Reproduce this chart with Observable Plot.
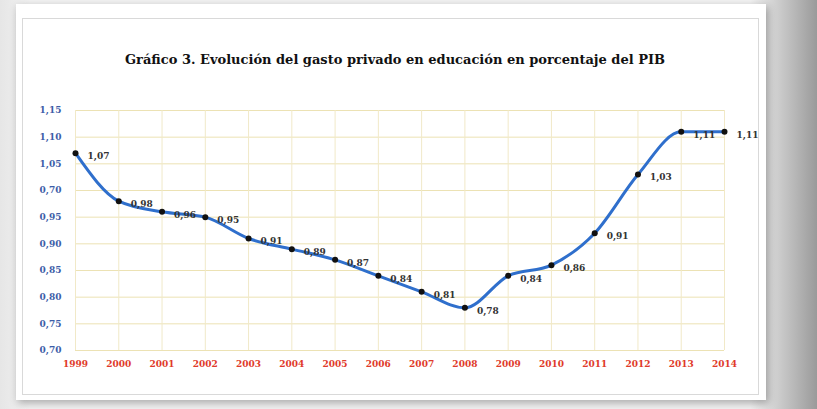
<!DOCTYPE html>
<html><head><meta charset="utf-8">
<script src="https://cdn.jsdelivr.net/npm/d3@7"></script>
<script src="https://cdn.jsdelivr.net/npm/@observablehq/plot@0.6"></script>
<style>
html,body{margin:0;padding:0;width:817px;height:409px;overflow:hidden;}
body{background:linear-gradient(to right,#e6e6e6 0px,#f2f2f2 30px,#f2f2f2 750px,#9a9a9a 817px);}
#paper{position:absolute;left:16px;top:4px;width:750px;height:396px;background:#fff;box-shadow:2px 3px 8px rgba(0,0,0,0.3);}
#frame{position:absolute;left:22px;top:18px;width:735px;height:375px;border:1px solid #d9d9d9;}
#title{position:absolute;left:0;top:52px;width:790px;text-align:center;font-family:"DejaVu Serif",serif;font-weight:bold;font-size:13px;color:#111;}
#chart{position:absolute;left:0;top:80px;}
</style></head>
<body>
<div id="paper"></div>
<div id="frame"></div>
<div id="title">Gráfico 3. Evolución del gasto privado en educación en porcentaje del PIB</div>
<div id="chart"></div>
<script>
const years = [1999,2000,2001,2002,2003,2004,2005,2006,2007,2008,2009,2010,2011,2012,2013,2014];
const values = [1.07,0.98,0.96,0.95,0.91,0.89,0.87,0.84,0.81,0.78,0.84,0.86,0.92,1.03,1.11,1.11];
const valueLabels = ["1,07","0,98","0,96","0,95","0,91","0,89","0,87","0,84","0,81","0,78","0,84","0,86","0,91","1,03","1,11","1,11"];
const yTicks = [0.70,0.75,0.80,0.85,0.90,0.95,1.00,1.05,1.10,1.15];
const yTickLabels = ["0,70","0,75","0,80","0,85","0,90","0,95","0,70","1,05","1,10","1,15"];

const data = years.map((y,i)=>({year:y, value:values[i], label:valueLabels[i]}));
const yLab = new Map(yTicks.map((t,i)=>[t.toFixed(2), yTickLabels[i]]));

const plot = Plot.plot({
  width: 817,
  height: 300,
  marginLeft: 75,
  marginRight: 93,
  marginTop: 30,
  marginBottom: 30,
  style: {fontFamily: "'DejaVu Serif', serif", fontWeight: "bold", fontSize: "9px", background: "transparent"},
  x: {domain: [1999, 2014], label: null},
  y: {domain: [0.70, 1.15], label: null},
  marks: [
    Plot.gridY(yTicks, {stroke: "#ece2b4", strokeOpacity: 1}),
    Plot.gridX(years, {stroke: "#f1e9c8", strokeOpacity: 1}),
    Plot.axisY(yTicks, {tickSize: 0, tickPadding: 14, fill: "#3d5ea8", tickFormat: d => yLab.get(d.toFixed(2))}),
    Plot.axisX(years, {tickSize: 0, tickPadding: 10, fill: "#e03a2a", tickFormat: d => String(d)}),
    Plot.line(data, {x: "year", y: "value", stroke: "#2f6fcc", strokeWidth: 3, curve: "monotone-x"}),
    Plot.dot(data, {x: "year", y: "value", r: 3, fill: "#111", stroke: "none"}),
    Plot.text(data, {x: "year", y: "value", text: "label", dx: 12, dy: 3, textAnchor: "start", fill: "#333", fontSize: 9})
  ]
});
document.getElementById("chart").appendChild(plot);
</script>
</body></html>
